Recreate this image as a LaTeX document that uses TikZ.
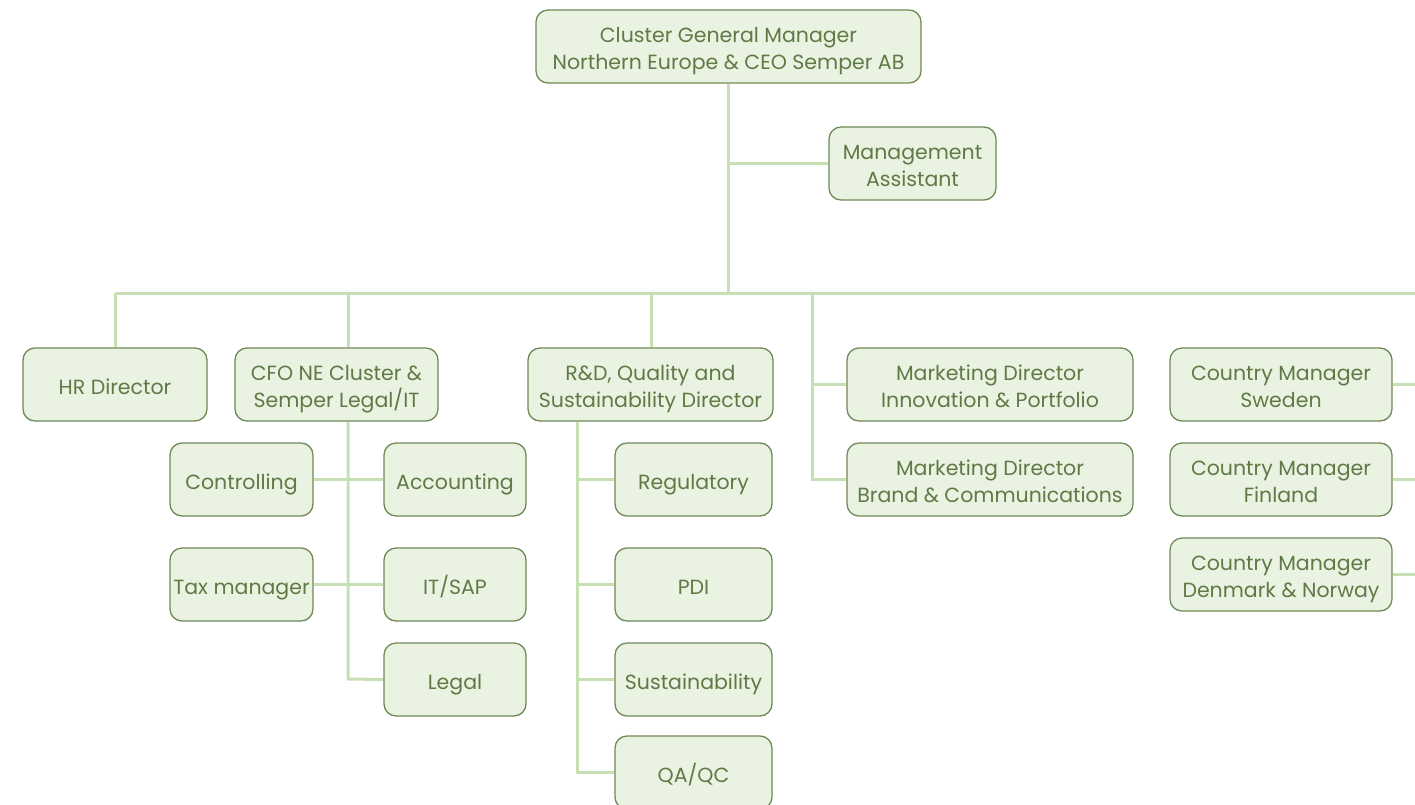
\documentclass[tikz,border=0pt]{standalone}
\usepackage{fontspec}
\setmainfont{Poppins}
\usetikzlibrary{backgrounds}
\definecolor{boxfill}{HTML}{EAF3E2}
\definecolor{boxline}{HTML}{6E8A55}
\definecolor{boxtext}{HTML}{5F7A45}
\definecolor{conn}{HTML}{C6E0B4}
\newcommand{\boxlbl}[1]{\begin{tabular}{@{}c@{}}\rule{0pt}{27.5pt}#1\end{tabular}}
\begin{document}
\begin{tikzpicture}[x=1pt,y=-1pt,
  box/.style={draw=boxline, fill=boxfill, line width=1.3pt, rounded corners=12pt,
    text=boxtext, font=\fontsize{20.5}{27}\selectfont, inner sep=0pt,
    minimum height=73pt},
  wire/.style={draw=conn, line width=3pt}]
\useasboundingbox (0,0) rectangle (1415,805);
\coordinate (busL) at (115,293);
\coordinate (busM) at (728,293);
\coordinate (busR) at (1415,293);
\coordinate (cfoDrop) at (348,293);
\coordinate (rdDrop) at (651,293);
\coordinate (mkDrop) at (812,293);
\coordinate (cfoSpine) at (348,679);
\coordinate (rdSpine) at (577,772.5);
\coordinate (edgeS) at (1415,384.5);
\coordinate (edgeF) at (1415,479.5);
\coordinate (edgeD) at (1415,574.5);

\node[box, minimum width=385pt] (ceo) at (728.5,46.5) {\boxlbl{Cluster General Manager\\Northern Europe \& CEO Semper AB}};
\node[box, minimum width=167pt] (ma) at (912.5,163.5) {\boxlbl{Management\\Assistant}};
\node[box, minimum width=184pt] (hr) at (115,384.5) {\boxlbl{HR Director}};
\node[box, minimum width=203pt] (cfo) at (336.5,384.5) {\boxlbl{CFO NE Cluster \&\\Semper Legal/IT}};
\node[box, minimum width=143pt] (ctrl) at (241.5,479.5) {\boxlbl{Controlling}};
\node[box, minimum width=142pt] (acc) at (455,479.5) {\boxlbl{Accounting}};
\node[box, minimum width=143pt] (tax) at (241.5,584.5) {\boxlbl{Tax manager}};
\node[box, minimum width=142pt] (itsap) at (455,584.5) {\boxlbl{IT/SAP}};
\node[box, minimum width=142pt] (legal) at (455,679.5) {\boxlbl{Legal}};
\node[box, minimum width=245pt] (rd) at (650.5,384.5) {\boxlbl{R\&D, Quality and\\Sustainability Director}};
\node[box, minimum width=157pt] (reg) at (693.5,479.5) {\boxlbl{Regulatory}};
\node[box, minimum width=157pt] (pdi) at (693.5,584.5) {\boxlbl{PDI}};
\node[box, minimum width=157pt] (sus) at (693.5,679.5) {\boxlbl{Sustainability}};
\node[box, minimum width=157pt] (qa) at (693.5,772.5) {\boxlbl{QA/QC}};
\node[box, minimum width=286pt] (mki) at (990,384.5) {\boxlbl{Marketing Director\\Innovation \& Portfolio}};
\node[box, minimum width=286pt] (mkb) at (990,479.5) {\boxlbl{Marketing Director\\Brand \& Communications}};
\node[box, minimum width=222pt] (cms) at (1281,384.5) {\boxlbl{Country Manager\\Sweden}};
\node[box, minimum width=222pt] (cmf) at (1281,479.5) {\boxlbl{Country Manager\\Finland}};
\node[box, minimum width=222pt] (cmd) at (1281,574.5) {\boxlbl{Country Manager\\Denmark \& Norway}};

\begin{scope}[on background layer]
\path[wire] (ceo.south -| busM) -- (busM);
\path[wire] (ma.west -| busM) -- (ma.west);
\path[wire] (busL) -- (busR);
\path[wire] (busL) -- (hr.north);
\path[wire] (cfoDrop) -- (cfoDrop |- cfo.north);
\path[wire] (rdDrop) -- (rdDrop |- rd.north);
\path[wire] (mkDrop) -- (mkDrop |- mkb.west) -- (mkb.west);
\path[wire] (mkDrop |- mki.west) -- (mki.west);
% CFO subtree
\path[wire] (cfoSpine |- cfo.south) -- (cfoSpine) -- (legal.west);
\path[wire] (ctrl.east) -- (acc.west);
\path[wire] (tax.east) -- (itsap.west);
% R&D subtree
\path[wire] (rdSpine |- rd.south) -- (rdSpine) -- (qa.west);
\path[wire] (rdSpine |- reg.west) -- (reg.west);
\path[wire] (rdSpine |- pdi.west) -- (pdi.west);
\path[wire] (rdSpine |- sus.west) -- (sus.west);
% country managers
\path[wire] (cms.east) -- (edgeS);
\path[wire] (cmf.east) -- (edgeF);
\path[wire] (cmd.east) -- (edgeD);
\end{scope}
\end{tikzpicture}
\end{document}
